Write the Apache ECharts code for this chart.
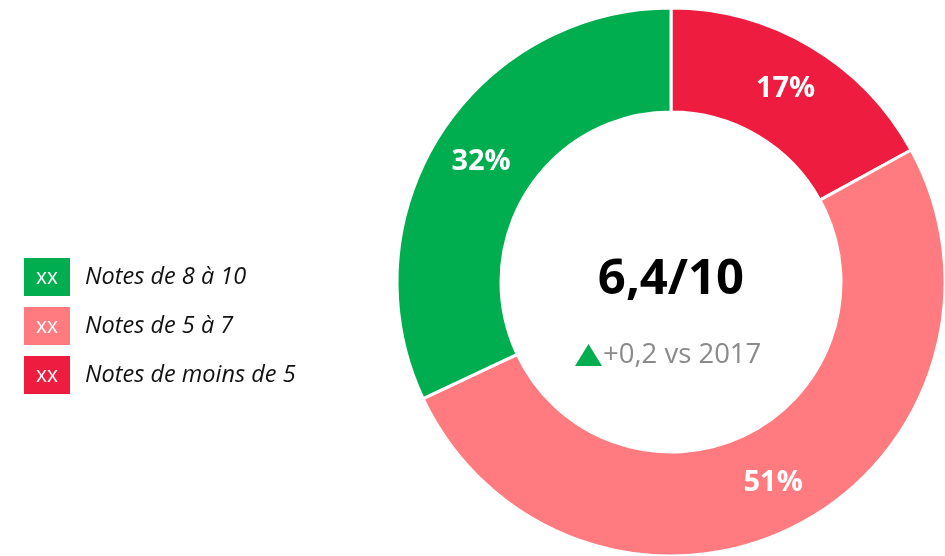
<!DOCTYPE html>
<html><head><meta charset="utf-8">
<script src="https://cdn.jsdelivr.net/npm/echarts@6/dist/echarts.min.js"></script>
<style>html,body{margin:0;padding:0;background:#fff}#c{width:945px;height:556px}</style>
</head><body><div id="c"></div>
<script>
const categories = ['Notes de 8 à 10', 'Notes de 5 à 7', 'Notes de moins de 5'];
const values = [32, 51, 17];
const legendTag = ['xx', 'xx', 'xx'];
const centerTitle = '6,4/10';
const centerDelta = '+0,2 vs 2017';
const colors = ['#00AE4F', '#FF7B7F', '#EE1C3E'];
const FONT = '"Source Sans Pro", "Open Sans", "Noto Sans", sans-serif';

const chart = echarts.init(document.getElementById('c'));
// order slices clockwise from top: red, pink, green
const order = [2, 1, 0];
const data = order.map(i => ({ name: categories[i], value: values[i], itemStyle: { color: colors[i] } }));

const graphics = [];
categories.forEach((c, i) => {
  const y = 258 + i * 49;
  graphics.push({ type: 'rect', shape: { x: 24, y: y, width: 46, height: 38 }, style: { fill: colors[i] } });
  graphics.push({ type: 'text', z: 10, style: { text: legendTag[i], x: 47, y: y + 20, fill: '#fff', font: '21px ' + FONT, textAlign: 'center', textVerticalAlign: 'middle' } });
  graphics.push({ type: 'text', style: { text: c, x: 85, y: y + 19, fill: '#111', font: 'italic 23.5px ' + FONT, textAlign: 'left', textVerticalAlign: 'middle' } });
});
graphics.push({ type: 'text', style: { text: centerTitle, x: 671, y: 280, fill: '#000', font: 'bold 49px ' + FONT, textAlign: 'center', textVerticalAlign: 'middle' } });
graphics.push({ type: 'polygon', shape: { points: [[575, 366], [602, 366], [588.5, 344]] }, style: { fill: '#00AE4F' } });
graphics.push({ type: 'text', style: { text: centerDelta, x: 603, y: 355, fill: '#8a8a8a', font: '27.5px ' + FONT, textAlign: 'left', textVerticalAlign: 'middle' } });

chart.setOption({
  animation: false,
  series: [{
    type: 'pie',
    center: [671, 282],
    radius: [170, 274],
    startAngle: 90,
    clockwise: true,
    data: data,
    itemStyle: { borderColor: '#fff', borderWidth: 3 },
    label: { show: true, position: 'inside', formatter: '{c}%', color: '#fff', fontWeight: 'bold', fontSize: 29, fontFamily: FONT, padding: [6, 0, 0, 0] },
    labelLine: { show: false },
    emphasis: { disabled: true }
  }],
  graphic: graphics
});
</script></body></html>
